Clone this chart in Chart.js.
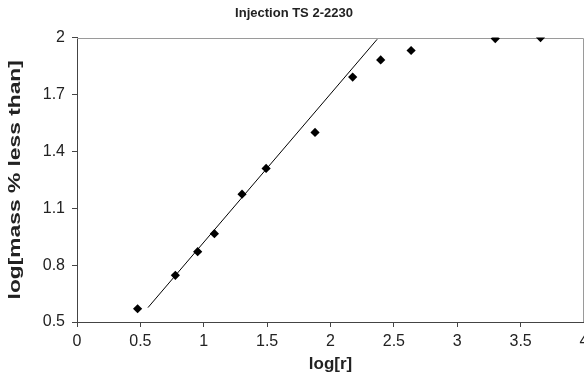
<!DOCTYPE html>
<html>
<head>
<meta charset="utf-8">
<script src="https://cdn.jsdelivr.net/npm/chart.js@4"></script>
<style>
  html, body { margin: 0; padding: 0; background: #fff; }
  #wrap { width: 584px; height: 383px; position: relative; }
</style>
</head>
<body>
<div id="wrap"><canvas id="c" width="584" height="383"></canvas></div>
<script>
const chartTitle = 'Injection TS 2-2230';
const xTitle = 'log[r]';
const yTitle = 'log[mass % less than]';
const logR = [0.478, 0.776, 0.952, 1.084, 1.302, 1.492, 1.878, 2.175, 2.396, 2.636, 3.30, 3.657];
const logMass = [0.570, 0.746, 0.871, 0.966, 1.174, 1.310, 1.500, 1.792, 1.882, 1.932, 1.995, 2.0];
const fitX = [0.560, 2.368];
const fitY = [0.576, 1.991];
const xTicks = [0, 0.5, 1, 1.5, 2, 2.5, 3, 3.5, 4];
const yTicks = [0.5, 0.8, 1.1, 1.4, 1.7, 2];

const frame = {
  id: 'frame',
  beforeDatasetsDraw(chart) {
    const a = chart.chartArea, ctx = chart.ctx;
    ctx.save();
    ctx.strokeStyle = '#9a9a9a';
    ctx.lineWidth = 1;
    ctx.beginPath();
    ctx.moveTo(a.left, Math.round(a.top) + 0.5);
    ctx.lineTo(Math.round(a.right) - 0.5, Math.round(a.top) + 0.5);
    ctx.lineTo(Math.round(a.right) - 0.5, a.bottom);
    ctx.stroke();
    ctx.restore();
  }
};

const fmt = v => String(+Number(v).toFixed(2));
const font = 'Liberation Sans, Arial, sans-serif';
new Chart(document.getElementById('c'), {
  type: 'scatter',
  data: {
    datasets: [
      {
        data: logR.map((x, i) => ({ x, y: logMass[i] })),
        pointStyle: 'rectRot',
        pointRadius: 4.6,
        pointBorderWidth: 0,
        backgroundColor: '#000',
        borderColor: '#000'
      },
      {
        type: 'line',
        data: fitX.map((x, i) => ({ x, y: fitY[i] })),
        borderColor: '#000',
        borderWidth: 1,
        pointRadius: 0,
        fill: false
      }
    ]
  },
  options: {
    responsive: false,
    animation: false,
    layout: { autoPadding: false, padding: { left: 4, right: 0, top: 0, bottom: 0 } },
    plugins: {
      legend: { display: false },
      tooltip: { enabled: false },
      title: {
        display: true,
        text: chartTitle,
        color: '#222',
        font: { family: font, size: 13, weight: 'bold' },
        padding: { top: 6, bottom: 16 }
      }
    },
    scales: {
      x: {
        type: 'linear',
        min: 0, max: 4,
        afterBuildTicks: s => { s.ticks = xTicks.map(v => ({ value: v })); },
        afterFit: s => { s.height = 61; s.paddingLeft = 0; s.paddingRight = 0; },
        afterUpdate: s => {
          s.getPadding = () => ({ left: 0, top: 0, right: 0, bottom: 0 });
        },
        grid: { drawOnChartArea: false, drawTicks: true, tickLength: 5, color: '#444' },
        border: { display: true, color: '#444', width: 1 },
        ticks: { color: '#222', font: { family: font, size: 16 }, padding: 5, maxRotation: 0, callback: fmt },
        title: { display: true, text: xTitle, color: '#222', font: { family: font, size: 17, weight: 'bold' }, padding: { top: 0, bottom: 8 } }
      },
      y: {
        type: 'linear',
        min: 0.5, max: 2,
        afterBuildTicks: s => { s.ticks = yTicks.map(v => ({ value: v })); },
        afterFit: s => { s.width = 73; },
        afterUpdate: s => {
          s.getPadding = () => ({ left: 0, top: 0, right: 0, bottom: 0 });
          if (!s._stretched) {
            const orig = s.drawTitle;
            s.drawTitle = function () {
              const ctx = this.ctx;
              const cy = (this.top + this.bottom) / 2;
              ctx.save();
              ctx.translate(0, cy);
              ctx.scale(1, 1.34);
              ctx.translate(0, -cy);
              orig.apply(this, arguments);
              ctx.restore();
            };
            s._stretched = true;
          }
        },
        grid: { drawOnChartArea: false, drawTicks: true, tickLength: 5, color: '#444' },
        border: { display: true, color: '#444', width: 1 },
        ticks: { color: '#222', font: { family: font, size: 16 }, padding: 7, callback: fmt },
        title: { display: true, text: yTitle, color: '#222', font: { family: font, size: 17, weight: 'bold' }, padding: { top: 1, bottom: 0 } }
      }
    }
  },
  plugins: [frame]
});
</script>
</body>
</html>
